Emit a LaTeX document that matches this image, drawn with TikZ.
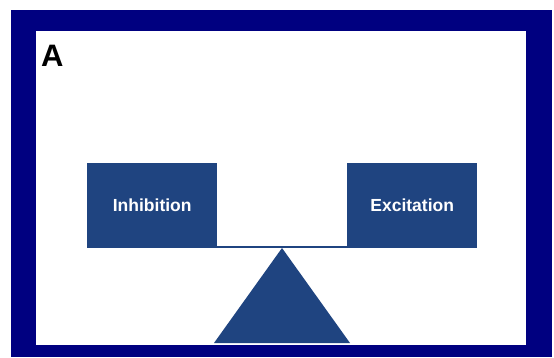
\documentclass[tikz,border=0pt]{standalone}
\usepackage{fontspec}
\setmainfont{Liberation Sans}
\definecolor{frameblue}{RGB}{0,0,128}
\definecolor{boxblue}{RGB}{31,68,128}
\begin{document}
\begin{tikzpicture}[x=1pt,y=1pt,
  weightbox/.style={fill=boxblue,draw=none,minimum width=130pt,minimum height=85pt,inner sep=0pt,
    text=white,font=\fontsize{17.5}{20}\selectfont\bfseries,anchor=south west}]
\useasboundingbox (0,0) rectangle (554,357);
\fill[white] (0,0) rectangle (554,357);
\fill[frameblue] (11,0) rectangle (552,347);
\fill[white] (36,12) rectangle (526,326);
\node[anchor=west,inner sep=0pt,font=\fontsize{31}{34}\selectfont\bfseries] (lab) at (41,301.5) {A};
\node[weightbox] (inh) at (87,109) {Inhibition};
\node[weightbox] (exc) at (347,109) {Excitation};
\draw[boxblue,line width=2.2pt] ([yshift=1pt]inh.south east) -- ([yshift=1pt]exc.south west);
\coordinate (apex) at (282,109);
\coordinate (bl) at (214,14);
\coordinate (br) at (350,14);
\fill[boxblue] (apex) -- (br) -- (bl) -- cycle;
\end{tikzpicture}
\end{document}
